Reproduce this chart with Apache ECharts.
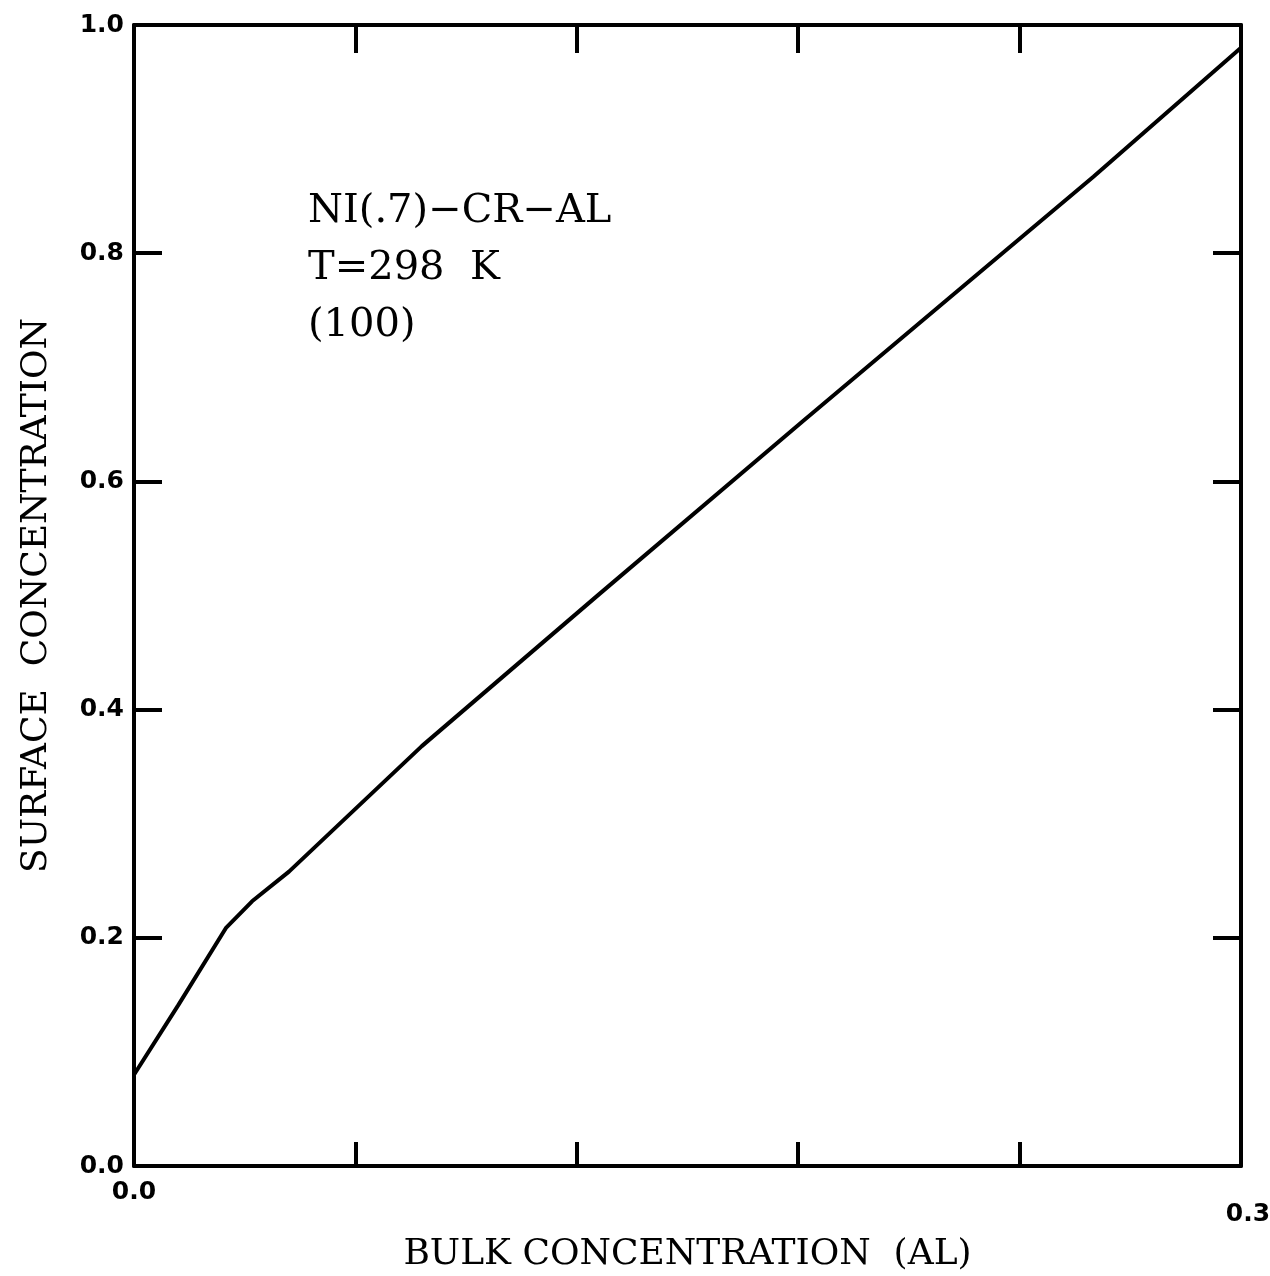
<!DOCTYPE html>
<html>
<head>
<meta charset="utf-8">
<script src="https://cdn.jsdelivr.net/npm/echarts@6/dist/echarts.min.js"></script>
<style>html,body{margin:0;padding:0;background:#fff}#c{width:1270px;height:1276px}</style>
</head>
<body>
<div id="c"></div>
<script>
// Data
const bulkAl = [0.0, 0.012, 0.025, 0.032, 0.042, 0.078, 0.126, 0.181, 0.221, 0.260, 0.300];
const surfaceConc = [0.08, 0.141, 0.209, 0.232, 0.258, 0.368, 0.501, 0.652, 0.761, 0.867, 0.980];
const xTickLabels = {"0": "0.0", "0.3": "0.3"};
const annotationLines = ["NI(.7)\u2212CR\u2212AL", "T=298  K", "(100)"];
const xName = "BULK CONCENTRATION  (AL)";
const yName = "SURFACE  CONCENTRATION";

const points = bulkAl.map((x, i) => [x, surfaceConc[i]]);
const axisLine = {show: true, onZero: false, lineStyle: {color: '#000', width: 4}};
const labelFont = {fontFamily: 'DejaVu Sans', fontWeight: 'bold', fontSize: 25, color: '#000'};
const nameFont = {fontFamily: 'DejaVu Serif', fontSize: 36, color: '#000'};

const chart = echarts.init(document.getElementById('c'));
chart.setOption({
  backgroundColor: '#fff',
  animation: false,
  grid: {left: 134, right: 29, top: 25, bottom: 110, containLabel: false, outerBoundsMode: 'none'},
  xAxis: [{
    type: 'value', min: 0, max: 0.3, interval: 0.06,
    axisLine: axisLine,
    axisTick: {show: true, inside: true, length: 24, lineStyle: {color: '#000', width: 4}},
    splitLine: {show: false},
    axisLabel: Object.assign({margin: 14, showMaxLabel: true, showMinLabel: true,
      formatter: v => (Math.abs(v) < 1e-9 ? xTickLabels["0"] : (Math.abs(v - 0.3) < 1e-9 ? '{low|' + xTickLabels["0.3"] + '}' : '')),
      rich: {low: {fontFamily: 'DejaVu Sans', fontWeight: 'bold', fontSize: 25, color: '#000', padding: [22, 0, 0, 14]}}
    }, labelFont),
    name: xName, nameLocation: 'middle', nameGap: 71, nameTextStyle: nameFont
  }, {
    type: 'value', min: 0, max: 0.3, interval: 0.06, position: 'top',
    axisLine: axisLine,
    axisTick: {show: true, inside: true, length: 28, lineStyle: {color: '#000', width: 4}},
    splitLine: {show: false}, axisLabel: {show: false}
  }],
  yAxis: [{
    type: 'value', min: 0, max: 1, interval: 0.2,
    axisLine: axisLine,
    axisTick: {show: true, inside: true, length: 28, lineStyle: {color: '#000', width: 4}},
    splitLine: {show: false},
    axisLabel: Object.assign({margin: 10, formatter: v => v.toFixed(1)}, labelFont),
    name: yName, nameLocation: 'middle', nameGap: 79, nameTextStyle: nameFont
  }, {
    type: 'value', min: 0, max: 1, interval: 0.2, position: 'right',
    axisLine: axisLine,
    axisTick: {show: true, inside: true, length: 28, lineStyle: {color: '#000', width: 4}},
    splitLine: {show: false}, axisLabel: {show: false}
  }],
  series: [{
    type: 'line', data: points, showSymbol: false, smooth: false,
    lineStyle: {color: '#000', width: 4}
  }],
  graphic: annotationLines.map((t, i) => ({
    type: 'text', x: 308, y: 212 + i * 57,
    style: {text: t, fontFamily: 'DejaVu Serif', fontSize: 40, fill: '#000', verticalAlign: 'middle'}
  }))
});
</script>
</body>
</html>
